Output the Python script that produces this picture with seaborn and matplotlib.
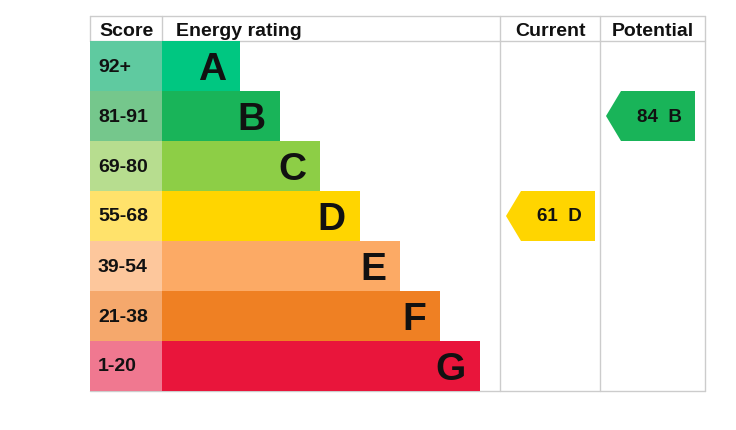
import matplotlib
matplotlib.use("Agg")
import matplotlib.pyplot as plt
import seaborn as sns
import pandas as pd
from matplotlib.patches import Polygon, Rectangle

bands = ["A", "B", "C", "D", "E", "F", "G"]
score_ranges = ["92+", "81-91", "69-80", "55-68", "39-54", "21-38", "1-20"]
bar_lengths = [78, 118, 158, 198, 238, 278, 318]
band_colors = ["#00c781", "#19b459", "#8dce46", "#ffd500", "#fcaa65", "#ef8023", "#e9153b"]
score_colors = ["#5fcaa0", "#75c78c", "#b7dd8f", "#ffe26b", "#fdc79c", "#f5a86c", "#f07890"]
current_value, current_band = 61, "D"
potential_value, potential_band = 84, "B"
current_color = "#ffd500"
potential_color = "#19b459"
headers = ["Score", "Energy rating", "Current", "Potential"]

sns.set_theme(style="white")
plt.rcParams['font.family'] = ['Liberation Sans', 'DejaVu Sans']

W, H = 736, 431
fig = plt.figure(figsize=(W / 100, H / 100), dpi=100)
ax = fig.add_axes([90 / W, 1 - 392 / H, (705 - 90) / W, (392 - 17) / H])

df = pd.DataFrame({"band": bands, "length": bar_lengths})
sns.barplot(data=df, x="length", y="band", hue="band", palette=band_colors,
            orient="h", width=1.0, legend=False, ax=ax, saturation=1, linewidth=0)

X0, X1 = -72, 543
ax.set_xlim(X0, X1)
ax.set_ylim(6.5, -1.0)
ax.axis("off")

grid = "#cccccc"
lw = 1.0
# score cells
for i, (s, c) in enumerate(zip(score_ranges, score_colors)):
    ax.add_patch(Rectangle((X0, i - 0.5), 72, 1, facecolor=c, edgecolor="none", zorder=1))
    ax.text(X0 + 8, i, s, ha="left", va="center", fontsize=14, fontweight="bold", color="#111111", zorder=3)

# band letters
for i, (b, L) in enumerate(zip(bands, bar_lengths)):
    ax.text(L - 14, i + 0.06, b, ha="right", va="center", fontsize=28, fontweight="bold", color="#111111", zorder=3)

# grid lines
cur_l, cur_r = 338, 438
pot_l, pot_r = 438, 543
for x in [cur_l, cur_r, X1]:
    ax.plot([x, x], [-1.0, 6.5], color=grid, lw=lw, zorder=0, clip_on=False)
ax.plot([X0, X0], [-1.0, -0.5], color=grid, lw=lw, zorder=0, clip_on=False)
ax.plot([0, 0], [-1.0, -0.5], color=grid, lw=lw, zorder=0, clip_on=False)
for y in [-1.0, -0.5, 6.5]:
    ax.plot([X0, X1], [y, y], color=grid, lw=lw, zorder=0, clip_on=False)

# headers
hy = -0.71
ax.text(X0 + 36, hy, headers[0], ha="center", va="center", fontsize=14, fontweight="bold", color="#111111")
ax.text(14, hy, headers[1], ha="left", va="center", fontsize=14, fontweight="bold", color="#111111")
ax.text((cur_l + cur_r) / 2, hy, headers[2], ha="center", va="center", fontsize=14, fontweight="bold", color="#111111")
ax.text((pot_l + pot_r) / 2, hy, headers[3], ha="center", va="center", fontsize=14, fontweight="bold", color="#111111")

def arrow(col_l, row, value, band, color):
    tip = col_l + 6
    body = col_l + 21
    right = col_l + 95
    pts = [(tip, row), (body, row - 0.5), (right, row - 0.5), (right, row + 0.5), (body, row + 0.5)]
    ax.add_patch(Polygon(pts, closed=True, facecolor=color, edgecolor="none", zorder=2))
    ax.text((body + right) / 2 + 1, row, f"{value}  {band}", ha="center", va="center",
            fontsize=13.5, fontweight="bold", color="#111111", zorder=3)

arrow(cur_l, bands.index(current_band), current_value, current_band, current_color)
arrow(pot_l, bands.index(potential_band), potential_value, potential_band, potential_color)

fig.savefig("out.png", dpi=100, facecolor="white")
